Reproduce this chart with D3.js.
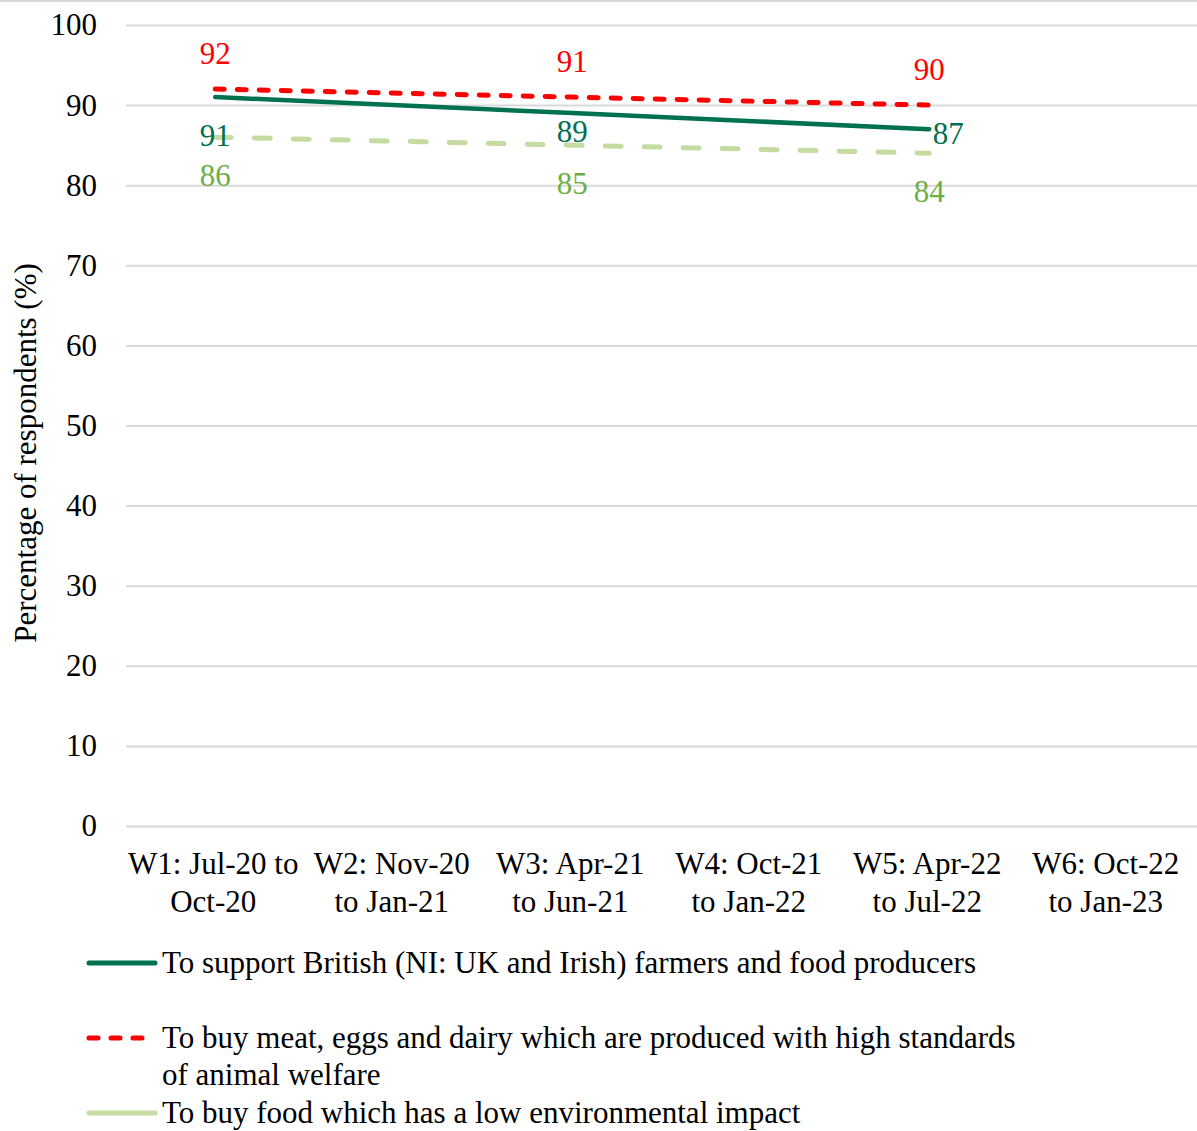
<!DOCTYPE html>
<html>
<head>
<meta charset="utf-8">
<script src="https://cdn.jsdelivr.net/npm/d3@7"></script>
<style>
  html, body { margin: 0; padding: 0; background: #fff; }
  svg { display: block; font-family: "Liberation Serif", "Times New Roman", serif; }
</style>
</head>
<body>
<svg id="chart" width="1197" height="1131"></svg>
<script>
// Survey waves (x categories), two-line labels
const waves = ["W1", "W2", "W3", "W4", "W5", "W6"];
const waveLabels = [
  ["W1: Jul-20 to", "Oct-20"],
  ["W2: Nov-20", "to Jan-21"],
  ["W3: Apr-21", "to Jun-21"],
  ["W4: Oct-21", "to Jan-22"],
  ["W5: Apr-22", "to Jul-22"],
  ["W6: Oct-22", "to Jan-23"]
];
const yTicks = [0, 10, 20, 30, 40, 50, 60, 70, 80, 90, 100];

// Series values per wave (null = not asked in that wave)
const supportBritish = [91, null, 89, null, 87, null];
const animalWelfare  = [92, null, 91, null, 90, null];
const lowEnvImpact   = [86, null, 85, null, 84, null];

const seriesNames = [
  "To support British (NI: UK and Irish) farmers and food producers",
  "To buy meat, eggs and dairy which are produced with high standards|of animal welfare",
  "To buy food which has a low environmental impact"
];

const FS = 31;

// label offsets (dx, baseline dy) relative to each point
const series = [
  { values: animalWelfare, color: "#FF0000", label: "#FF0000", dash: "9,13", width: 5,
    offs: [[0, -25], [0, -25], [0, -25]] },
  { values: supportBritish, color: "#007150", label: "#007150", dash: null, width: 4.5,
    offs: [[0, 49], [0, 29], [19, 15]] },
  { values: lowEnvImpact, color: "#C4DBA1", label: "#6DAF45", dash: "16,23", width: 5,
    offs: [[0, 49], [0, 49], [0, 49]] }
];

const svg = d3.select("#chart");
const W = 1197;
const plot = { left: 126, right: 1197, top: 25, bottom: 826 };

const x = d3.scaleBand().domain(waves).range([plot.left, plot.right]);
const y = d3.scaleLinear().domain([0, 100]).range([plot.bottom, plot.top]);
const cx = d => x(d) + x.bandwidth() / 2;

// top frame line
svg.append("line")
  .attr("x1", 0).attr("x2", W).attr("y1", 1).attr("y2", 1)
  .attr("stroke", "#d9d9d9").attr("stroke-width", 2);

// gridlines + y labels
const yAxis = d3.axisLeft(y).tickValues(yTicks).tickSize(-(plot.right - plot.left)).tickPadding(29);
const gy = svg.append("g").attr("transform", `translate(${plot.left},0)`).call(yAxis);
gy.select(".domain").remove();
gy.selectAll(".tick line").attr("stroke", "#d9d9d9").attr("stroke-width", 2);
gy.selectAll(".tick text")
  .attr("font-size", FS).attr("fill", "#000")
  .attr("font-family", "Liberation Serif, Times New Roman, serif");

// x labels
const xAxis = d3.axisBottom(x).tickSize(0).tickFormat(() => "");
const gx = svg.append("g").attr("transform", `translate(0,${plot.bottom})`).call(xAxis);
gx.select(".domain").remove();
gx.selectAll(".tick").each(function(d, i) {
  const t = d3.select(this).append("text")
    .attr("text-anchor", "middle").attr("fill", "#000")
    .attr("font-size", FS)
    .attr("font-family", "Liberation Serif, Times New Roman, serif");
  waveLabels[i].forEach((line, k) => {
    t.append("tspan").attr("x", -2).attr("y", 48 + k * 38).text(line);
  });
});

// y axis title
svg.append("text")
  .attr("transform", `translate(36,453) rotate(-90)`)
  .attr("text-anchor", "middle").attr("font-size", FS).attr("fill", "#000")
  .text("Percentage of respondents (%)");

// lines (gaps skipped, points connected)
const lineGen = d3.line().x(d => cx(d.w)).y(d => y(d.v));
series.forEach(s => {
  s.pts = waves.map((w, i) => ({ w, v: s.values[i] })).filter(d => d.v !== null);
});
// draw order: light green, red, dark green on top
[series[2], series[0], series[1]].forEach(s => {
  svg.append("path")
    .datum(s.pts)
    .attr("d", lineGen)
    .attr("fill", "none")
    .attr("stroke", s.color)
    .attr("stroke-width", s.width)
    .attr("stroke-linecap", "round")
    .attr("stroke-dasharray", s.dash);
});

// data labels
series.forEach(s => {
  s.pts.forEach((d, i) => {
    const [dx, dy] = s.offs[i];
    svg.append("text")
      .attr("x", cx(d.w) + dx).attr("y", y(d.v) + dy)
      .attr("text-anchor", "middle")
      .attr("font-size", FS).attr("fill", s.label)
      .text(d.v);
  });
});

// legend
const legend = [
  { name: seriesNames[0], color: "#007150", dash: null, y: 963 },
  { name: seriesNames[1], color: "#FF0000", dash: "9,13", y: 1038 },
  { name: seriesNames[2], color: "#C4DBA1", dash: null, y: 1113 }
];
legend.forEach(l => {
  svg.append("line")
    .attr("x1", 89).attr("x2", 155).attr("y1", l.y).attr("y2", l.y)
    .attr("stroke", l.color).attr("stroke-width", 5)
    .attr("stroke-linecap", "round")
    .attr("stroke-dasharray", l.dash);
  const t = svg.append("text").attr("font-size", FS).attr("fill", "#000");
  l.name.split("|").forEach((line, k) => {
    t.append("tspan").attr("x", 162).attr("y", l.y + 10 + k * 37).text(line);
  });
});
</script>
</body>
</html>
